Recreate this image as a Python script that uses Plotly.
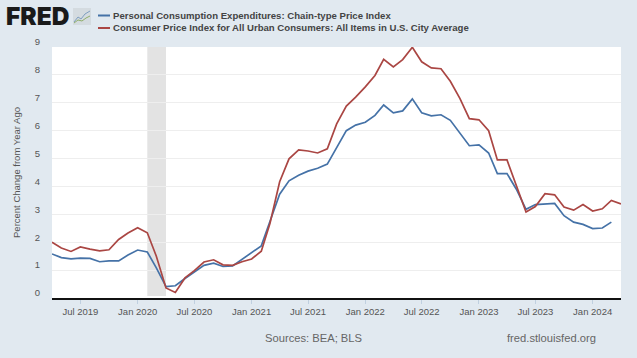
import plotly.graph_objects as go
import pandas as pd

months_cpi = pd.date_range("2019-04-01", "2024-04-01", freq="MS")
months_pce = pd.date_range("2019-04-01", "2024-03-01", freq="MS")

pce_name = "Personal Consumption Expenditures: Chain-type Price Index"
cpi_name = "Consumer Price Index for All Urban Consumers: All Items in U.S. City Average"

pce = [1.58, 1.45, 1.40, 1.43, 1.42, 1.30, 1.33, 1.33, 1.54, 1.72, 1.65, 1.08,
       0.41, 0.44, 0.70, 0.94, 1.17, 1.25, 1.13, 1.15, 1.38, 1.62, 1.87, 2.75,
       3.72, 4.20, 4.40, 4.55, 4.65, 4.80, 5.40, 6.00, 6.20, 6.30, 6.55, 6.92,
       6.64, 6.71, 7.14, 6.64, 6.53, 6.57, 6.37, 5.92, 5.46, 5.49, 5.20, 4.46,
       4.46, 3.90, 3.18, 3.35, 3.37, 3.39, 2.95, 2.72, 2.64, 2.49, 2.51, 2.72]
cpi = [2.00, 1.79, 1.67, 1.83, 1.75, 1.69, 1.73, 2.10, 2.33, 2.52, 2.34, 1.50,
       0.36, 0.20, 0.72, 0.98, 1.29, 1.37, 1.19, 1.17, 1.30, 1.40, 1.68, 2.68,
       4.17, 4.99, 5.31, 5.27, 5.20, 5.35, 6.24, 6.88, 7.20, 7.57, 7.98, 8.56,
       8.29, 8.55, 8.99, 8.47, 8.25, 8.22, 7.77, 7.15, 6.43, 6.39, 6.00, 4.95,
       4.95, 4.05, 3.08, 3.28, 3.74, 3.70, 3.26, 3.15, 3.35, 3.12, 3.20, 3.50, 3.37]

y_ticks = list(range(10))
x_tick_vals = ["2019-07-01", "2020-01-01", "2020-07-01", "2021-01-01", "2021-07-01",
               "2022-01-01", "2022-07-01", "2023-01-01", "2023-07-01", "2024-01-01"]
x_tick_text = ["Jul 2019", "Jan 2020", "Jul 2020", "Jan 2021", "Jul 2021",
               "Jan 2022", "Jul 2022", "Jan 2023", "Jul 2023", "Jan 2024"]
recession = ["2020-02-01", "2020-04-01"]

BG = "#e1e9f0"
BLUE = "#4572a7"
RED = "#aa4643"
TXT = "#555555"
L, R, T, B = 52, 621, 47, 298

def px(x):
    return (x - L) / (R - L)

def py(y):
    return (B - y) / (B - T)

fig = go.Figure()
fig.add_trace(go.Scatter(x=months_pce, y=pce, mode="lines", name=pce_name,
                         line=dict(color=BLUE, width=1.7), showlegend=False))
fig.add_trace(go.Scatter(x=months_cpi, y=cpi, mode="lines", name=cpi_name,
                         line=dict(color=RED, width=1.7), showlegend=False))

def paper_line(pts, color, width):
    path = "M " + " L ".join(f"{px(a):.4f},{py(b):.4f}" for a, b in pts)
    return dict(type="path", xref="paper", yref="paper", path=path,
                line=dict(color=color, width=width))

shapes = [
    dict(type="rect", xref="x", yref="paper", x0=recession[0], x1=recession[1],
         y0=0.008, y1=1, fillcolor="#e3e3e3", line_width=0, layer="below"),
    dict(type="line", xref="paper", yref="paper", x0=px(98), x1=px(110), y0=py(15.5), y1=py(15.5),
         line=dict(color=BLUE, width=2)),
    dict(type="line", xref="paper", yref="paper", x0=px(98), x1=px(110), y0=py(28), y1=py(28),
         line=dict(color=RED, width=2)),
    dict(type="rect", xref="paper", yref="paper", x0=px(73), x1=px(91), y0=py(25), y1=py(8),
         fillcolor="#d4dbe0", line_width=0),
    paper_line([(74, 22), (78, 17), (81, 19), (85, 14), (90, 11)], "#7f9fc0", 1),
    paper_line([(74, 23), (78, 20), (82, 21), (86, 18), (90, 16)], "#8fae6a", 1),
]

def note(x, y, text, size, color=TXT, anchor="left", weight=None, family="Liberation Sans"):
    return dict(xref="paper", yref="paper", x=px(x), y=py(y), text=text, showarrow=False,
                xanchor=anchor, yanchor="middle", borderpad=0, borderwidth=0,
                font=dict(family=family, size=size, color=color, weight=weight))

annotations = [
    note(6, 16, "FRED", 24.5, "#1a1a1a", weight=900, family="Inter"),
    note(113, 15.5, pce_name, 9.6, "#444444", weight=700),
    note(113, 27.5, cpi_name, 9.6, "#444444", weight=700),
    note(265, 338, "Sources: BEA; BLS", 11.2, "#666666"),
    note(507, 338, "fred.stlouisfed.org", 11.2, "#666666"),
]

fig.update_layout(
    width=637, height=358, autosize=False,
    paper_bgcolor=BG, plot_bgcolor="#ffffff",
    margin=dict(l=L, r=637 - R, t=T, b=358 - B, pad=0),
    font=dict(family="Liberation Sans", size=9.5, color=TXT),
    shapes=shapes, annotations=annotations, showlegend=False,
    xaxis=dict(range=["2019-04-01", "2024-04-01"], tickmode="array",
               tickvals=x_tick_vals, ticktext=x_tick_text, showgrid=False,
               ticks="outside", ticklen=4, tickcolor="#c0d0e0", tickwidth=1,
               showline=True, linecolor="#111111", linewidth=2,
               tickfont=dict(size=9.5, color=TXT), zeroline=False),
    yaxis=dict(range=[0, 9], tickmode="array", tickvals=y_ticks,
               ticktext=[str(v) for v in y_ticks], showgrid=True, gridcolor="#eeeeee",
               gridwidth=1, zeroline=False, ticks="", showline=False,
               ticklabelshift=-5, ticklabelstandoff=11,
               tickfont=dict(size=9.5, color=TXT),
               title=dict(text="Percent Change from Year Ago", standoff=12,
                          font=dict(size=9.5, color=TXT))),
)
fig.write_html("out.html", config={"displayModeBar": False},
               post_script="document.body.style.margin='0';")
